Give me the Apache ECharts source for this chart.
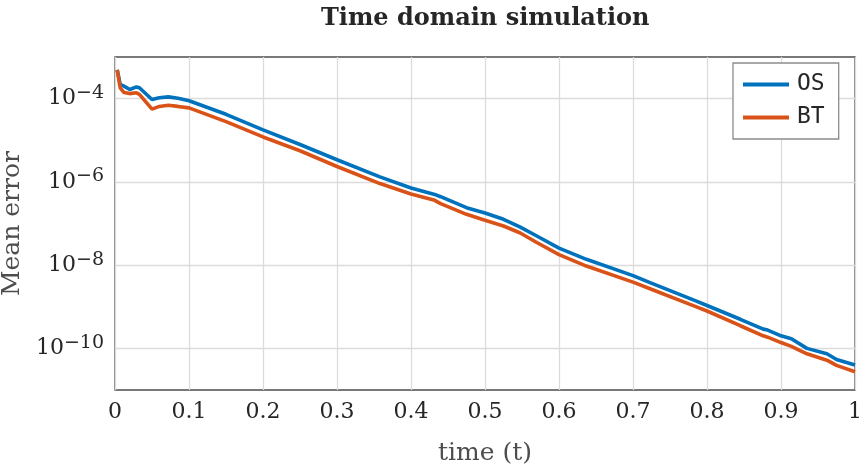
<!DOCTYPE html>
<html>
<head>
<meta charset="utf-8">
<script src="https://cdn.jsdelivr.net/npm/echarts@6/dist/echarts.min.js"></script>
<style>
  html, body { margin: 0; padding: 0; background: #fff; }
  #chart { width: 859px; height: 471px; }
</style>
</head>
<body>
<div id="chart"></div>
<script>
// time samples shared by both series
const times = [0.003, 0.007, 0.012, 0.02, 0.029, 0.033, 0.05, 0.06, 0.072, 0.085,
  0.1, 0.15, 0.2, 0.25, 0.3, 0.358, 0.4, 0.432, 0.44, 0.475,
  0.5, 0.525, 0.547, 0.57, 0.6, 0.637, 0.7, 0.723, 0.784, 0.8,
  0.845, 0.876, 0.882, 0.9, 0.914, 0.935, 0.962, 0.975, 1.0];

// mean error, OS
const osError = [4.9e-4, 2.19e-4, 2.0e-4, 1.66e-4, 1.91e-4, 1.82e-4, 9.5e-5, 1.05e-4, 1.1e-4, 1.02e-4,
  8.9e-5, 4.2e-5, 1.78e-5, 7.9e-6, 3.4e-6, 1.32e-6, 7.1e-7, 5.0e-7, 4.4e-7, 2.4e-7,
  1.78e-7, 1.26e-7, 8.3e-8, 5.0e-8, 2.57e-8, 1.38e-8, 5.6e-9, 3.8e-9, 1.4e-9, 1.07e-9,
  5.0e-10, 2.9e-10, 2.75e-10, 2.0e-10, 1.7e-10, 1.0e-10, 7.4e-11, 5.4e-11, 4.0e-11];

// mean error, BT
const btError = [4.9e-4, 1.82e-4, 1.41e-4, 1.32e-4, 1.38e-4, 1.26e-4, 5.6e-5, 6.5e-5, 6.9e-5, 6.5e-5,
  6.0e-5, 2.8e-5, 1.2e-5, 5.6e-6, 2.34e-6, 9.1e-7, 5.1e-7, 3.6e-7, 3.0e-7, 1.66e-7,
  1.2e-7, 8.7e-8, 6.0e-8, 3.5e-8, 1.78e-8, 9.5e-9, 3.9e-9, 2.7e-9, 1.02e-9, 7.9e-10,
  3.5e-10, 2.0e-10, 1.86e-10, 1.38e-10, 1.12e-10, 7.4e-11, 5.2e-11, 3.9e-11, 2.75e-11];

const yDecades = [-10, -8, -6, -4];
const xTicks = [0, 0.1, 0.2, 0.3, 0.4, 0.5, 0.6, 0.7, 0.8, 0.9, 1];

const serif = '"DejaVu Serif", serif';
const mono = '"DejaVu Sans Mono", monospace';

// plot on log10 of the error, label as powers of ten
const toPoints = (values) => times.map((t, i) => [t, Math.log10(values[i])]);

const chart = echarts.init(document.getElementById('chart'), null, { renderer: 'canvas' });

chart.setOption({
  animation: false,
  backgroundColor: '#fff',
  graphic: [{
    type: 'text',
    left: 485 - 164,
    top: 7,
    style: {
      text: 'Time domain simulation',
      font: `bold 24px ${serif}`,
      fill: '#262626',
    },
  }],
  grid: {
    left: 115, right: 4, top: 57, bottom: 81,
    show: true,
    borderColor: '#4d4d4d',
    borderWidth: 1.3,
    outerBoundsMode: 'none',
  },
  legend: {
    left: 733,
    top: 63,
    orient: 'vertical',
    icon: 'rect',
    itemWidth: 46,
    itemHeight: 4,
    itemGap: 10,
    padding: [10, 14, 10, 10],
    backgroundColor: '#fff',
    borderColor: '#8c8c8c',
    borderWidth: 1.3,
    borderRadius: 0,
    textStyle: { fontFamily: mono, fontSize: 23, color: '#262626', padding: [0, 0, 0, 3] },
    data: ['OS', 'BT'],
  },
  xAxis: {
    type: 'value',
    min: 0,
    max: 1,
    interval: 0.1,
    name: 'time (t)',
    nameLocation: 'middle',
    nameGap: 51,
    nameTextStyle: { fontFamily: serif, fontSize: 25, color: '#4d4d4d' },
    axisLine: { show: false },
    axisTick: { show: false },
    axisLabel: {
      fontFamily: serif, fontSize: 22, color: '#262626', margin: 11,
      formatter: (v) => {
        const hit = xTicks.find((x) => Math.abs(x - v) < 1e-9);
        return hit === 0 || hit === 1 ? String(hit) : hit.toFixed(1);
      },
    },
    splitLine: { show: true, lineStyle: { color: '#dcdcdc', width: 1.3 } },
  },
  yAxis: {
    type: 'value',
    min: -11,
    max: -3,
    name: 'Mean error',
    nameLocation: 'middle',
    nameGap: 77,
    nameTextStyle: { fontFamily: serif, fontSize: 25, color: '#4d4d4d' },
    axisLine: { show: false },
    axisTick: { show: false, customValues: yDecades },
    axisLabel: {
      customValues: yDecades,
      margin: 11,
      formatter: (v) => `{b|10}{s|\u2212${Math.abs(Math.round(v))}}`,
      rich: {
        b: { fontFamily: serif, fontSize: 22, color: '#262626', lineHeight: 30 },
        s: { fontFamily: serif, fontSize: 19, color: '#262626', lineHeight: 19, verticalAlign: 'top' },
      },
    },
    splitLine: { show: true, lineStyle: { color: '#dcdcdc', width: 1.3 } },
  },
  series: [
    {
      name: 'OS',
      type: 'line',
      data: toPoints(osError),
      showSymbol: false,
      color: '#0072BD',
      lineStyle: { width: 3.6, color: '#0072BD' },
      z: 3,
    },
    {
      name: 'BT',
      type: 'line',
      data: toPoints(btError),
      showSymbol: false,
      color: '#D95319',
      lineStyle: { width: 3.6, color: '#D95319' },
      z: 3,
    },
  ],
});
</script>
</body>
</html>
